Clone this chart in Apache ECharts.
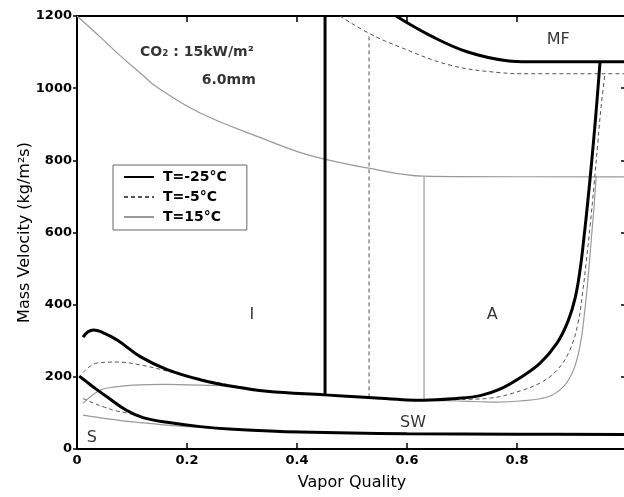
<!DOCTYPE html>
<html>
<head>
<meta charset="utf-8">
<script src="https://cdn.jsdelivr.net/npm/echarts@6/dist/echarts.min.js"></script>
<style>
html,body{margin:0;padding:0;background:#fff;}
#c{width:624px;height:497px;}
</style>
</head>
<body>
<div id="c"></div>
<script>
// ---- data (vapor quality, mass velocity kg/m2s) ----
const xTicks = [0, 0.2, 0.4, 0.6, 0.8, 1];
const yTicks = [0, 200, 400, 600, 800, 1000, 1200];
const seriesNames = ['T=-25°C', 'T=-5°C', 'T=15°C'];

// T = -25 C
const wavy25 = [[0.011,310],[0.02,325],[0.03,330],[0.045,324],[0.073,302],[0.115,256],[0.164,220],[0.224,192],[0.284,173],[0.345,160],[0.45,150],[0.53,143],[0.6,136],[0.63,135],[0.69,140],[0.733,148],[0.769,166],[0.805,197],[0.842,238],[0.873,294],[0.893,355],[0.906,420],[0.915,500],[0.922,590],[0.929,690],[0.936,800],[0.943,920],[0.951,1073]];
const strat25 = [[0.004,202],[0.016,188],[0.033,168],[0.055,144],[0.089,108],[0.12,87],[0.164,74],[0.224,62],[0.284,55],[0.405,47],[0.6,42],[0.8,41],[1.0,40]];
const vert25 = [[0.451,150],[0.451,1200]];
const mist25 = [[0.58,1200],[0.647,1142],[0.709,1101],[0.782,1076],[0.82,1073],[1.0,1073]];

// T = -5 C
const wavy5 = [[0.011,212],[0.036,238],[0.073,241],[0.115,233],[0.164,216],[0.207,199],[0.284,176],[0.345,161],[0.45,151],[0.53,143],[0.63,135],[0.69,137],[0.751,141],[0.793,155],[0.842,183],[0.873,219],[0.896,274],[0.911,349],[0.919,430],[0.926,520],[0.933,620],[0.94,730],[0.947,850],[0.953,950],[0.96,1040]];
const strat5 = [[0.011,140],[0.03,127],[0.05,116],[0.07,106],[0.09,100],[0.12,87]];
const vert5 = [[0.531,143],[0.531,1152]];
const mist5 = [[0.478,1200],[0.531,1152],[0.587,1114],[0.678,1064],[0.769,1043],[0.82,1040],[1.0,1040]];

// T = 15 C
const wavy15 = [[0.011,127],[0.042,163],[0.07,172],[0.102,177],[0.16,179],[0.224,177],[0.3,172],[0.345,160],[0.45,150],[0.53,143],[0.63,135],[0.69,133],[0.733,131],[0.764,130],[0.805,133],[0.855,144],[0.884,172],[0.903,220],[0.915,290],[0.923,380],[0.929,470],[0.935,580],[0.94,670],[0.944,755]];
const strat15 = [[0.011,94],[0.06,83],[0.102,75],[0.157,67],[0.2,62],[0.284,55]];
const vert15 = [[0.631,134],[0.631,755]];
const mist15 = [[0,1200],[0.042,1142],[0.08,1088],[0.115,1042],[0.145,1003],[0.224,931],[0.345,856],[0.405,822],[0.448,804],[0.527,779],[0.63,756],[0.7,755],[1.0,754]];

// annotations
const notes = [
  {x:0.218, y:1100, text:'CO\u2082 : 15kW/m\u00b2', bold:true},
  {x:0.276, y:1022, text:'6.0mm', bold:true},
  {x:0.875, y:1133, text:'MF'},
  {x:0.318, y:371, text:'I'},
  {x:0.755, y:371, text:'A'},
  {x:0.611, y:72, text:'SW'},
  {x:0.027, y:30, text:'S'}
];

const FONT = 'DejaVu Sans';
const styles = {
  'T=-25°C': {color:'#000', width:3, type:'solid'},
  'T=-5°C': {color:'#555', width:1, type:[4,3]},
  'T=15°C': {color:'#999', width:1.2, type:'solid'}
};
function line(name, data, smooth) {
  const s = styles[name];
  return {
    type:'line', name:name, data:data, showSymbol:false, symbol:'none',
    smooth: smooth ? 0.4 : false,
    silent:true, animation:false,
    itemStyle:{color:s.color},
    lineStyle:{color:s.color, width:s.width, type:s.type},
    clip:true
  };
}
const series = [
  line('T=15°C', mist15, true), line('T=15°C', wavy15, true), line('T=15°C', strat15, true), line('T=15°C', vert15, false),
  line('T=-5°C', mist5, true), line('T=-5°C', wavy5, true), line('T=-5°C', strat5, true), line('T=-5°C', vert5, false),
  line('T=-25°C', mist25, true), line('T=-25°C', wavy25, true), line('T=-25°C', strat25, true), line('T=-25°C', vert25, false),
  {
    type:'scatter', name:'notes', symbolSize:0, silent:true, animation:false,
    data: notes.map(n => ({value:[n.x, n.y], label:{formatter:n.text, color:'#000', fontFamily:FONT,
      fontWeight: n.bold ? 'bold' : 'normal', fontSize: n.bold ? 14 : 16}})),
    label:{show:true, position:'inside', color:'#000', fontFamily:FONT}
  }
];

const chart = echarts.init(document.getElementById('c'), null, {renderer:'canvas'});
const axisCommon = {
  type:'value', min:0, axisLine:{show:true, onZero:false, lineStyle:{color:'#000', width:2}},
  splitLine:{show:false}
};
chart.setOption({
  animation:false,
  backgroundColor:'#fff',
  grid:{left:77, top:16, width:550, height:433, containLabel:false, outerBoundsMode:'none'},
  legend:{
    data:seriesNames, orient:'vertical', left:113, top:165,
    itemWidth:30, itemHeight:14, itemGap:6,
    padding:[5,20,6,10], borderColor:'#666', borderWidth:1, backgroundColor:'#fff',
    itemStyle:{color:'rgba(0,0,0,0)', borderWidth:0, opacity:0},
    textStyle:{fontFamily:FONT, fontWeight:'bold', fontSize:14, color:'#000', padding:[0,0,0,4]},
    selectedMode:false
  },
  xAxis:[
    Object.assign({}, axisCommon, {
      position:'bottom', max:1, interval:0.2,
      name:'Vapor Quality', nameLocation:'middle', nameGap:26, nameMoveOverlap:false,
      nameTextStyle:{fontFamily:FONT, fontSize:16, color:'#000'},
      axisTick:{show:true, inside:true, length:6, lineStyle:{color:'#000', width:1.5}},
      axisLabel:{fontFamily:FONT, fontWeight:'bold', fontSize:13, color:'#000', margin:5,
        formatter: v => String(+(+v).toFixed(1))}
    }),
    Object.assign({}, axisCommon, {
      position:'top', max:1, interval:0.2,
      axisTick:{show:true, inside:true, length:6, lineStyle:{color:'#000', width:1.5}},
      axisLabel:{show:false}
    })
  ],
  yAxis:[
    Object.assign({}, axisCommon, {
      position:'left', max:1200, interval:200,
      name:'Mass Velocity (kg/m\u00b2s)', nameLocation:'middle', nameGap:44, nameMoveOverlap:false,
      nameTextStyle:{fontFamily:FONT, fontSize:16, color:'#000'},
      axisTick:{show:true, inside:false, length:4, lineStyle:{color:'#000', width:1.5}},
      axisLabel:{fontFamily:FONT, fontWeight:'bold', fontSize:13, color:'#000', margin:5,
        formatter: v => String(Math.round(v))}
    }),
    Object.assign({}, axisCommon, {
      position:'right', max:1200, interval:200,
      axisTick:{show:true, inside:true, length:6, lineStyle:{color:'#000', width:1.5}},
      axisLabel:{show:false}
    })
  ],
  series: series
});
</script>
</body>
</html>
